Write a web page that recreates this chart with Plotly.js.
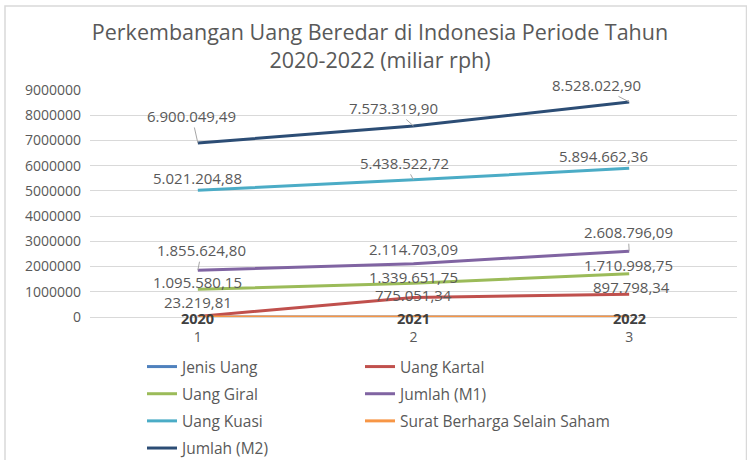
<!DOCTYPE html>
<html>
<head>
<meta charset="utf-8">
<script src="https://cdn.plot.ly/plotly-3.0.1.min.js"></script>
<style>html,body{margin:0;padding:0;background:#fff;}#chart{width:747px;height:460px;}</style>
</head>
<body>
<div id="chart"></div>
<script>
// ---- data ----
const xCats = [1, 2, 3];
const xTickLabels = ['1', '2', '3'];
const seriesNames = ['Jenis Uang', 'Uang Kartal', 'Uang Giral', 'Jumlah (M1)', 'Uang Kuasi', 'Surat Berharga Selain Saham', 'Jumlah (M2)'];
const jenisUang = [2020, 2021, 2022];
const uangKartal = [23219.81, 775051.34, 897798.34];
const uangGiral = [1095580.15, 1339651.75, 1710998.75];
const jumlahM1 = [1855624.80, 2114703.09, 2608796.09];
const uangKuasi = [5021204.88, 5438522.72, 5894662.36];
const suratBerharga = [0, 0, 0];
const jumlahM2 = [6900049.49, 7573319.90, 8528022.90];
const titleText = 'Perkembangan Uang Beredar di Indonesia Periode Tahun<br>2020-2022 (miliar rph)';

// ---- styles ----
const FONT = 'Open Sans, sans-serif';
const colors = ['#4F81BD', '#C0504D', '#9BBB59', '#8064A2', '#4BACC6', '#F79646', '#2C4D75'];
const legendOf = ['legend', 'legend2', 'legend', 'legend2', 'legend', 'legend2', 'legend'];
const allSeries = [jenisUang, uangKartal, uangGiral, jumlahM1, uangKuasi, suratBerharga, jumlahM2];
// label placement: [dx, dy(px, down positive), leader]
const labelPos = {
  1: [[0, -14, false], [0, -2, false], [2, -7, false]],
  2: [[0, -7, false], [0, -6, false], [-1, -9, false]],
  3: [[4, -20, true], [0, -15, false], [-1, -19, true]],
  4: [[0, -12, false], [-9, -17, true], [-26, -12, false]],
  6: [[-6, -27, true], [-20, -18, true], [-33, -17, true]]
};

function fmtID(v) {
  const parts = v.toFixed(2).split('.');
  return parts[0].replace(/\B(?=(\d{3})+(?!\d))/g, '.') + ',' + parts[1];
}

const traces = allSeries.map((ys, i) => ({
  type: 'scatter', mode: 'lines', x: xCats, y: ys, name: seriesNames[i],
  line: {color: colors[i], width: 3}, legend: legendOf[i], legendgroup: 'g' + i,
  hoverinfo: 'skip'
}));

const annotations = [];
Object.keys(labelPos).forEach(k => {
  const ys = allSeries[k];
  labelPos[k].forEach((p, j) => {
    const a = {xref: 'x', yref: 'y', x: xCats[j], y: ys[j], text: fmtID(ys[j]),
      font: {family: FONT, size: 15, color: '#595959'}};
    if (p[2]) {
      Object.assign(a, {showarrow: true, ax: p[0], ay: p[1], arrowhead: 0, arrowwidth: 1, arrowcolor: '#A6A6A6', standoff: 0});
    } else {
      Object.assign(a, {showarrow: false, xshift: p[0], yshift: -p[1]});
    }
    annotations.push(a);
  });
});
jenisUang.forEach((v, j) => {
  annotations.push({xref: 'x', yref: 'y', x: xCats[j], y: suratBerharga[j], text: '<b>' + v + '</b>',
    showarrow: false, yshift: -1, font: {family: FONT, size: 14.5, color: '#404040'}});
});

const L = 90, R = 10, T = 90, B = 143, W = 747, H = 460;
const pw = W - L - R, ph = H - T - B;
const px2x = p => (p - L) / pw;
const py2y = p => (H - B - p) / ph;

const legendCommon = {xref: 'container', yref: 'container', y: 1 - 350 / H, xanchor: 'left', yanchor: 'top',
  orientation: 'v', tracegroupgap: 4, font: {family: FONT, size: 15.5, color: '#595959'},
  bgcolor: 'rgba(0,0,0,0)', itemwidth: 30};

const layout = {
  width: W, height: H,
  margin: {l: L, r: R, t: T, b: B, pad: 0, autoexpand: false},
  paper_bgcolor: '#fff', plot_bgcolor: '#fff',
  font: {family: FONT, color: '#595959'},
  title: {text: titleText, font: {family: FONT, size: 21.5, color: '#595959'},
    x: 380 / W, xanchor: 'center', xref: 'container', y: 1 - 40 / H, yanchor: 'top', yref: 'container', automargin: false},
  xaxis: {range: [0.5, 3.5], tickvals: xCats, ticktext: xTickLabels, showgrid: false, zeroline: false,
    showline: false, ticks: '', ticklabelstandoff: 10, tickfont: {family: FONT, size: 14, color: '#595959'}, fixedrange: true},
  yaxis: {range: [0, 9000000], dtick: 1000000, tickformat: 'd', showgrid: true, gridcolor: '#D9D9D9', gridwidth: 1,
    zeroline: true, zerolinecolor: '#D9D9D9', zerolinewidth: 1, showline: false, ticks: '', ticklabelstandoff: 8,
    tickfont: {family: FONT, size: 14, color: '#595959'}, fixedrange: true},
  showlegend: true,
  legend: Object.assign({}, legendCommon, {x: 142 / W}),
  legend2: Object.assign({}, legendCommon, {x: 360 / W}),
  annotations: annotations,
  shapes: [{type: 'rect', xref: 'paper', yref: 'paper', x0: px2x(5), x1: px2x(746.5), y0: py2y(465), y1: py2y(6),
    line: {color: '#D9D9D9', width: 1.5}, fillcolor: 'rgba(0,0,0,0)', layer: 'below'}]
};

Plotly.newPlot('chart', traces, layout, {displayModeBar: false, staticPlot: true});
</script>
</body>
</html>
